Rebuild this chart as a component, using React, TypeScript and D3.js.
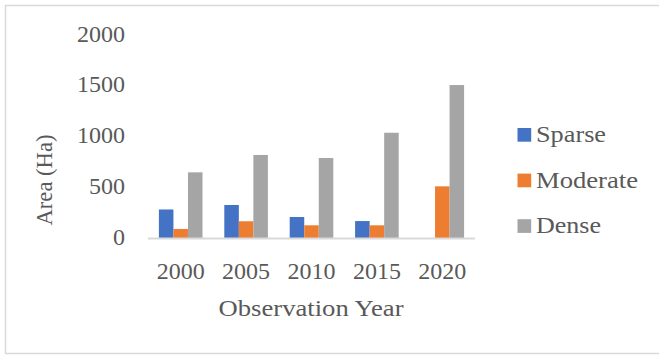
import React from "react";
import * as d3 from "d3";

const categories = ["2000", "2005", "2010", "2015", "2020"];
const seriesNames = ["Sparse", "Moderate", "Dense"];
const sparse = [281, 325, 207, 167, 0];
const moderate = [89, 165, 125, 125, 509];
const dense = [647, 818, 788, 1037, 1507];
const yTicks = [0, 500, 1000, 1500, 2000];
const colors = ["#4472C4", "#ED7D31", "#A5A5A5"];
const legendWidths = [70, 102, 65];

export default function App() {
  const W = 659, H = 355;
  const left = 148, right = 475, top = 35, bottom = 238;
  const series = [sparse, moderate, dense];
  const x = d3.scaleBand<string>().domain(categories).range([left, right]).paddingInner(0).paddingOuter(0);
  const y = d3.scaleLinear().domain([0, 2000]).range([bottom, top]);
  const bw = x.bandwidth();
  const barW = bw / (3 + 1.5);
  const font = "'Liberation Serif', 'Times New Roman', serif";
  const tc = "#595959";
  const fs = 24;
  return (
    <svg width={W} height={H} style={{ position: "absolute", left: 0, top: 0 }} fontFamily={font}>
      <rect x={0} y={0} width={W} height={H} fill="#fff" />
      <rect x={5.5} y={5.5} width={W + 10} height={348} fill="none" stroke="#d9d9d9" strokeWidth={1.5} />
      {series.map((vals, si) =>
        vals.map((v, ci) => (
          <rect
            key={si + "-" + ci}
            x={(x(categories[ci]) as number) + bw / 2 - 1.5 * barW + si * barW}
            y={y(v)}
            width={barW}
            height={bottom - y(v)}
            fill={colors[si]}
          />
        ))
      )}
      <line x1={left} x2={right} y1={bottom + 0.5} y2={bottom + 0.5} stroke="#d9d9d9" strokeWidth={2} />
      {yTicks.map((t) => (
        <text key={t} x={125} y={y(t) + 6.5} textAnchor="end" fontSize={fs} fill={tc}>
          {t}
        </text>
      ))}
      {categories.map((c) => (
        <text key={c} x={(x(c) as number) + bw / 2} y={279} textAnchor="middle" fontSize={fs} fill={tc}>
          {c}
        </text>
      ))}
      <text x={311} y={316} textAnchor="middle" fontSize={fs} fill={tc} textLength={185} lengthAdjust="spacingAndGlyphs">
        Observation Year
      </text>
      <text transform={`translate(51.5,180) rotate(-90)`} textAnchor="middle" fontSize={fs} fill={tc} textLength={91} lengthAdjust="spacingAndGlyphs">
        Area (Ha)
      </text>
      {seriesNames.map((n, i) => (
        <g key={n}>
          <rect x={517.5} y={128 + i * 45.6} width={13.7} height={13.7} fill={colors[i]} />
          <text x={536} y={142 + i * 45.6} fontSize={fs} fill={tc} textLength={legendWidths[i]} lengthAdjust="spacingAndGlyphs">
            {n}
          </text>
        </g>
      ))}
    </svg>
  );
}
